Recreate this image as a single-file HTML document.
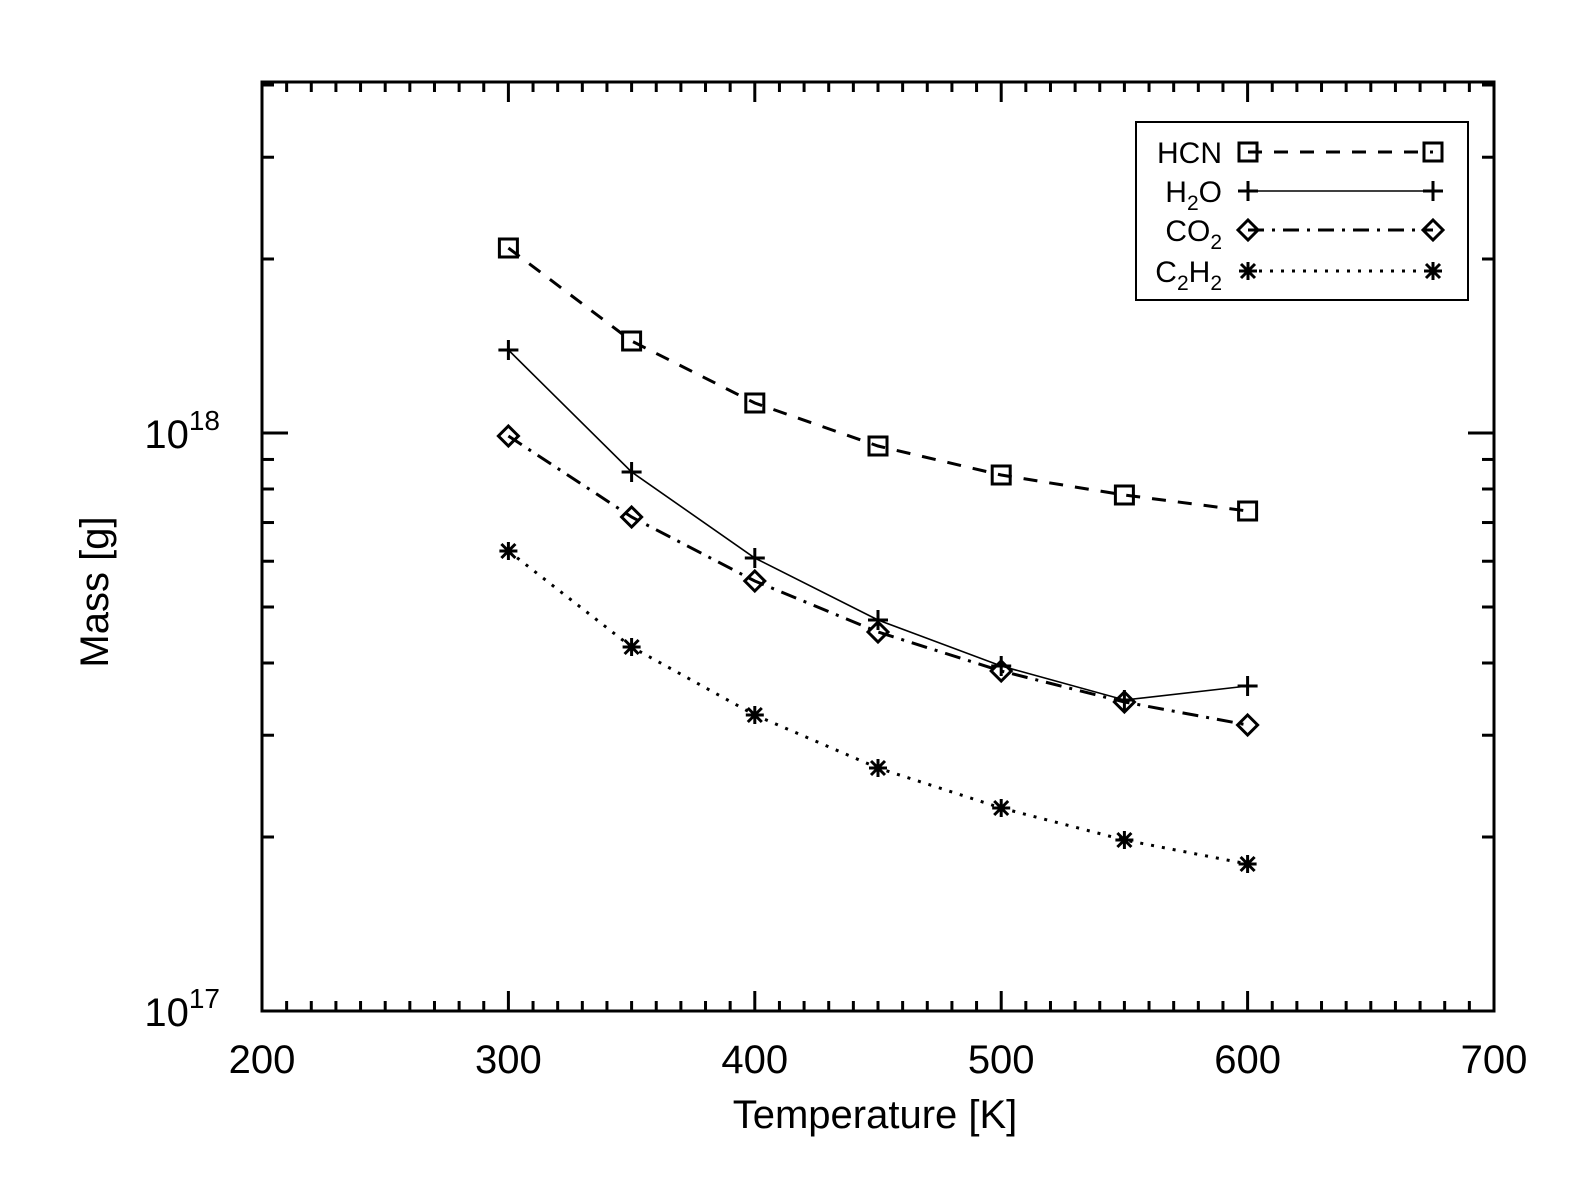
<!DOCTYPE html>
<html><head><meta charset="utf-8"><style>
html,body{margin:0;padding:0;background:#fff;}
svg{display:block;font-family:"Liberation Sans",sans-serif;}
</style></head><body>
<svg id="s" width="1573" height="1181" xmlns="http://www.w3.org/2000/svg">
<rect width="1573" height="1181" fill="#fff"/>
<g id="g"></g>
<text x="108" y="592" font-size="40" text-anchor="middle" transform="rotate(-90 108 592)" fill="#000">Mass [g]</text>
<text x="875" y="1128" font-size="40" text-anchor="middle" fill="#000">Temperature [K]</text>
<text x="220" y="448" font-size="40" text-anchor="end" fill="#000">10<tspan dy="-18" font-size="28">18</tspan></text>
<text x="220" y="1026" font-size="40" text-anchor="end" fill="#000">10<tspan dy="-18" font-size="28">17</tspan></text>
<!-- legend -->
<rect x="1136" y="122" width="332" height="178" fill="none" stroke="#000" stroke-width="2"/>
<g font-size="30" text-anchor="end" fill="#000">
<text x="1222" y="163">HCN</text>
<text x="1222" y="202">H<tspan font-size="21" dy="8">2</tspan><tspan dy="-8">O</tspan></text>
<text x="1222" y="241">CO<tspan font-size="21" dy="8">2</tspan></text>
<text x="1222" y="282">C<tspan font-size="21" dy="8">2</tspan><tspan dy="-8">H</tspan><tspan font-size="21" dy="8">2</tspan></text>
</g>
</svg>
<script>
const g=document.getElementById('g');let h='';
const X=v=>262+(v-200)*2.464;
const Y=m=>1011-(Math.log10(m)-17)*578;
// box
h+='<rect x="262" y="82" width="1232" height="929" fill="none" stroke="#000" stroke-width="3"/>';
for(let v=210;v<700;v+=10){const x=X(v),L=(v%100==0)?20:10;
h+=`<line x1="${x}" y1="1011" x2="${x}" y2="${1011-L}" stroke="#000" stroke-width="3"/><line x1="${x}" y1="82" x2="${x}" y2="${82+L}" stroke="#000" stroke-width="3"/>`;}
for(let v=200;v<=700;v+=100)h+=`<text x="${X(v)}" y="1073" font-size="40" text-anchor="middle">${v}</text>`;
const ys=[];for(let d of [17,18])for(let k=1;k<10;k++){const m=k*Math.pow(10,d);const y=Y(m);if(y>=82&&y<=1011&&!(d==17&&k==1))ys.push([y,k==1]);}
for(const [y,maj] of ys){const L=maj?26:12;h+=`<line x1="262" y1="${y}" x2="${262+L}" y2="${y}" stroke="#000" stroke-width="3"/><line x1="1494" y1="${y}" x2="${1494-L}" y2="${y}" stroke="#000" stroke-width="3"/>`;}
const T=[300,350,400,450,500,550,600];
const S=[
 {p:[248,341,403,446,475,495,511],d:'14 12',w:3,m:'sq'},
 {p:[350,472,558,620,666,700,686],d:'',w:1.6,m:'plus'},
 {p:[436,517,581,632,671,702,725],d:'16 8 3 8',w:3,m:'dia'},
 {p:[551,647,715,768,808,840,864],d:'3 8',w:3,m:'ast'}];
function mk(t,x,y){
 if(t=='sq')return `<rect x="${x-9}" y="${y-9}" width="18" height="18" fill="none" stroke="#000" stroke-width="3"/>`;
 if(t=='plus')return `<path d="M${x-10} ${y}H${x+10}M${x} ${y-10}V${y+10}" stroke="#000" stroke-width="3"/>`;
 if(t=='dia')return `<path d="M${x} ${y-10}L${x+10} ${y}L${x} ${y+10}L${x-10} ${y}Z" fill="none" stroke="#000" stroke-width="3"/>`;
 return `<path d="M${x-9} ${y}H${x+9}M${x} ${y-9}V${y+9}M${x-7} ${y-7}L${x+7} ${y+7}M${x-7} ${y+7}L${x+7} ${y-7}" stroke="#000" stroke-width="3"/>`;}
for(const s of S){const pts=T.map((t,i)=>X(t)+','+s.p[i]).join(' ');
h+=`<polyline points="${pts}" fill="none" stroke="#000" stroke-width="${s.w}" stroke-dasharray="${s.d}"/>`;
T.forEach((t,i)=>h+=mk(s.m,X(t),s.p[i]));}
const LY=[152,191,230,271];
S.forEach((s,i)=>{h+=`<line x1="1248" y1="${LY[i]}" x2="1433" y2="${LY[i]}" stroke="#000" stroke-width="${s.w}" stroke-dasharray="${s.d}"/>`+mk(s.m,1248,LY[i])+mk(s.m,1433,LY[i]);});
g.innerHTML=h;
</script>
</body></html>
